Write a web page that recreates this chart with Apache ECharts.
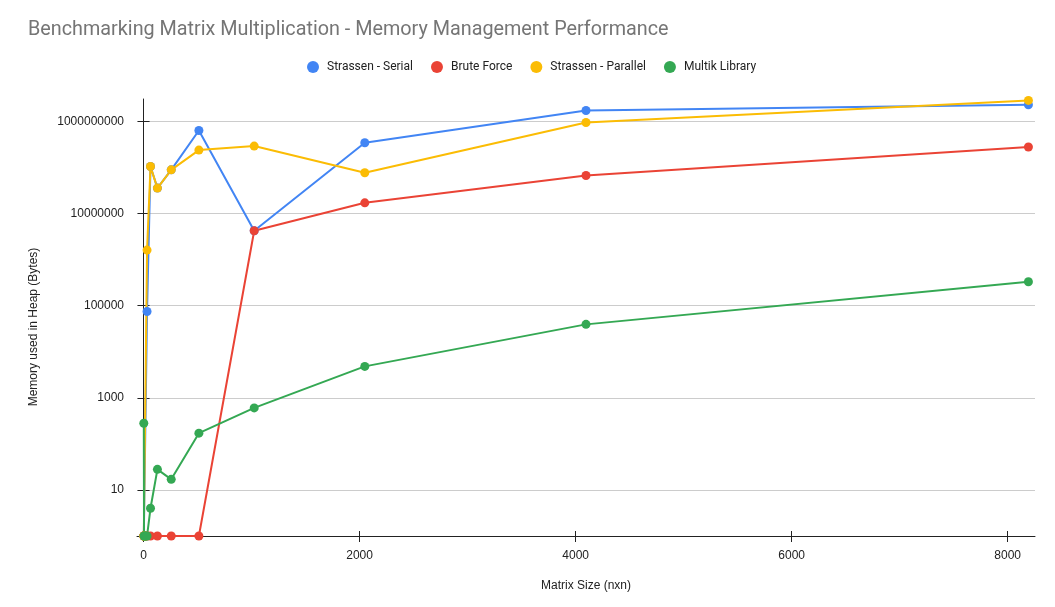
<!DOCTYPE html>
<html>
<head>
<meta charset="utf-8">
<script src="https://cdn.jsdelivr.net/npm/echarts@6/dist/echarts.min.js"></script>
<style>
  html, body { margin: 0; padding: 0; background: #fff; }
  #chart { width: 1055px; height: 607px; }
</style>
</head>
<body>
<div id="chart"></div>
<script>
// matrix sizes (n for an n x n matrix)
const sizes = [2, 4, 8, 16, 32, 64, 128, 256, 512, 1024, 2048, 4096, 8192];

// heap memory in bytes (1 = sits on the floor)
const strassenSerial   = [1, 1, 1, 1, 74600, 105000000, 35700000, 89000000, 637000000, 4230000, 344000000, 1730000000, 2300000000];
const bruteForce       = [1, 1, 1, 1, 1, 1, 1, 1, 1, 4230000, 17100000, 67100000, 278000000];
const strassenParallel = [1, 1, 1, 1, 1610000, 105000000, 35700000, 89000000, 239000000, 292000000, 76800000, 950000000, 2860000000];
const multikLibrary    = [281, 1, 1, 1, 1, 4, 28, 17, 171, 604, 4810, 39300, 330000];

const xTicks = [0, 2000, 4000, 6000, 8000];
const yTicks = [10, 1000, 100000, 10000000, 1000000000];

const seriesInfo = [
  { name: 'Strassen - Serial', color: '#4285F4', values: strassenSerial },
  { name: 'Brute Force', color: '#EA4335', values: bruteForce },
  { name: 'Strassen - Parallel', color: '#FBBC04', values: strassenParallel },
  { name: 'Multik Library', color: '#34A853', values: multikLibrary },
];

const chart = echarts.init(document.getElementById('chart'));

const axisFont = { fontFamily: "'Liberation Sans', Arial, sans-serif", fontSize: 12, color: '#222' };
const plain = v => String(Math.round(v)); // no thousands separators

const options = {
  animation: false,
  title: {
    text: 'Benchmarking Matrix Multiplication - Memory Management Performance',
    left: 23,
    top: 15,
    textStyle: {
      fontFamily: 'Roboto, sans-serif',
      fontWeight: 'normal',
      fontSize: 19.8,
      color: '#757575',
    },
  },
  legend: {
    top: 61,
    left: 307,
    padding: 0,
    icon: 'circle',
    itemWidth: 12,
    itemHeight: 12,
    itemGap: 18,
    textStyle: {
      fontFamily: 'Roboto, sans-serif',
      fontSize: 12,
      color: '#222',
      padding: [0, 0, 0, 3],
    },
    data: seriesInfo.map(s => s.name),
  },
  grid: {
    left: 137,
    right: 20,
    top: 99,
    bottom: 71,
    containLabel: false,
  },
  xAxis: [
    {
      type: 'value',
      min: -61,
      max: 8253,
      name: 'Matrix Size (nxn)',
      nameLocation: 'middle',
      nameGap: 44,
      nameTextStyle: axisFont,
      axisLine: { show: true, onZero: false, lineStyle: { color: '#222', width: 1 } },
      axisTick: { show: true, length: 6, customValues: xTicks, lineStyle: { color: '#222' } },
      axisLabel: { ...axisFont, margin: 14, customValues: xTicks, formatter: plain },
      splitLine: { show: false },
    },
    {
      // second copy only to draw the tick half that sits inside the plot
      type: 'value',
      min: -61,
      max: 8253,
      position: 'bottom',
      axisLine: { show: false },
      axisTick: { show: true, inside: true, length: 5, customValues: xTicks, lineStyle: { color: '#222' } },
      axisLabel: { show: false },
      splitLine: { show: false },
    },
  ],
  yAxis: [
    {
      type: 'log',
      logBase: 10,
      min: 1,
      max: 3070000000,
      name: 'Memory used in Heap (Bytes)',
      nameLocation: 'middle',
      nameGap: 97,
      nameTextStyle: { ...axisFont, padding: [0, 19, 0, 0] },
      axisLine: { show: true, lineStyle: { color: '#222', width: 1 } },
      axisTick: { show: true, length: 6, customValues: yTicks, lineStyle: { color: '#222' } },
      axisLabel: { ...axisFont, margin: 13, customValues: yTicks, formatter: plain },
      splitLine: { show: true, lineStyle: { color: '#cccccc', width: 1 } },
    },
    {
      type: 'log',
      logBase: 10,
      min: 1,
      max: 3070000000,
      position: 'left',
      axisLine: { show: false },
      axisTick: { show: true, inside: true, length: 6, customValues: yTicks, lineStyle: { color: '#222' } },
      axisLabel: { show: false },
      splitLine: { show: false },
    },
  ],
  series: seriesInfo.map(s => ({
    name: s.name,
    type: 'line',
    xAxisIndex: 0,
    yAxisIndex: 0,
    data: sizes.map((n, i) => [n, s.values[i]]),
    color: s.color,
    symbol: 'circle',
    symbolSize: 9,
    showAllSymbol: true,
    lineStyle: { width: 2, color: s.color },
    itemStyle: { color: s.color },
    clip: true,
  })),
};

chart.setOption(options);
</script>
</body>
</html>
